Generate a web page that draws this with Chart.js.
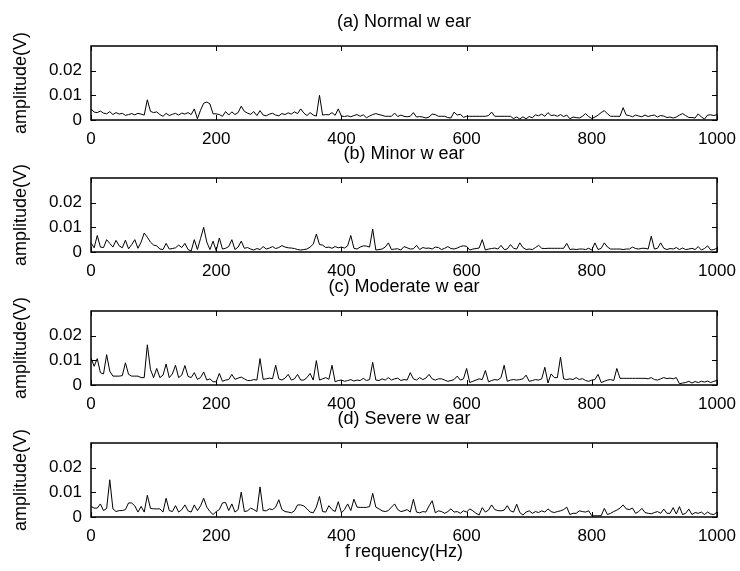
<!DOCTYPE html>
<html lang="en">
<head>
<meta charset="UTF-8">
<title>Tool wear spectra</title>
<script src="https://cdn.jsdelivr.net/npm/chart.js"></script>
<style>
    body {
        margin: 0;
        background: #fff;
    }
    #wrap {
        position: relative;
        width: 740px;
        height: 571px;
        overflow: hidden;
    }
    .panel {
        position: absolute;
        left: 0;
    }
</style>
</head>
<body>
<div id="wrap">
    <canvas id="c0" class="panel" width="740" height="152" style="top:0px"></canvas>
    <canvas id="c1" class="panel" width="740" height="152" style="top:132px"></canvas>
    <canvas id="c2" class="panel" width="740" height="152" style="top:265px"></canvas>
    <canvas id="c3" class="panel" width="740" height="174" style="top:397px"></canvas>
</div>

<script>
// ---- data ----
const TITLES = ['(a) Normal w ear', '(b) Minor w ear', '(c) Moderate w ear', '(d) Severe w ear'];
const Y_LABEL = 'amplitude(V)';
const X_LABEL = 'f requency(Hz)';
const X_TICKS = [0, 200, 400, 600, 800, 1000];
const Y_TICKS = [0, 0.01, 0.02];
const Y_TICK_LABELS = ['0', '0.01', '0.02'];
const FREQ_STEP = 5; // Hz between spectrum lines, 0..1000

// amplitude (V), one row = 10 lines = 50 Hz
const normalWear = [
    .0045,.0032,.0030,.0036,.0028,.0025,.0034,.0022,.0030,.0024,
    .0027,.0019,.0022,.0026,.0021,.0027,.0024,.0020,.0082,.0035,
    .0030,.0033,.0022,.0015,.0027,.0018,.0023,.0027,.0020,.0028,
    .0024,.0030,.0022,.0045,.0005,.0040,.0068,.0073,.0065,.0025,
    .0025,.0022,.0015,.0034,.0020,.0033,.0022,.0030,.0056,.0035,
    .0028,.0023,.0034,.0018,.0038,.0020,.0017,.0024,.0027,.0020,
    .0017,.0026,.0022,.0029,.0024,.0033,.0026,.0045,.0028,.0018,
    .0030,.0020,.0016,.0100,.0020,.0022,.0021,.0030,.0019,.0045,
    .0016,.0014,.0017,.0013,.0018,.0022,.0015,.0021,.0009,.0016,
    .0022,.0026,.0022,.0019,.0015,.0015,.0015,.0028,.0014,.0020,
    .0015,.0013,.0015,.0030,.0012,.0014,.0012,.0008,.0012,.0024,
    .0022,.0015,.0015,.0015,.0010,.0008,.0032,.0020,.0023,.0011,
    .0015,.0015,.0015,.0015,.0015,.0015,.0015,.0018,.0032,.0015,
    .0015,.0015,.0015,.0015,.0015,.0006,.0012,.0004,.0013,.0005,
    .0014,.0009,.0021,.0017,.0024,.0015,.0030,.0018,.0020,.0015,
    .0022,.0014,.0020,.0005,.0012,.0010,.0008,.0015,.0026,.0014,
    .0006,.0012,.0020,.0030,.0038,.0025,.0015,.0015,.0015,.0015,
    .0050,.0020,.0018,.0013,.0020,.0016,.0013,.0020,.0014,.0018,
    .0020,.0012,.0018,.0016,.0010,.0012,.0008,.0012,.0020,.0026,
    .0018,.0010,.0010,.0008,.0025,.0012,.0004,.0020,.0021,.0018,
    .0022
];

const minorWear = [
    .0037,.0017,.0067,.0020,.0018,.0050,.0035,.0020,.0047,.0025,
    .0017,.0048,.0013,.0030,.0050,.0015,.0040,.0077,.0060,.0040,
    .0028,.0025,.0012,.0010,.0035,.0012,.0014,.0017,.0028,.0018,
    .0035,.0010,.0004,.0050,.0010,.0055,.0100,.0040,.0010,.0044,
    .0005,.0057,.0012,.0015,.0022,.0050,.0010,.0020,.0044,.0015,
    .0018,.0012,.0008,.0014,.0010,.0022,.0012,.0016,.0022,.0014,
    .0018,.0026,.0020,.0017,.0016,.0014,.0010,.0008,.0010,.0012,
    .0020,.0032,.0073,.0030,.0028,.0018,.0020,.0015,.0022,.0017,
    .0020,.0016,.0025,.0067,.0015,.0012,.0020,.0025,.0024,.0020,
    .0093,.0008,.0010,.0012,.0020,.0037,.0010,.0012,.0013,.0008,
    .0022,.0017,.0012,.0013,.0027,.0010,.0018,.0015,.0016,.0012,
    .0020,.0018,.0010,.0015,.0022,.0014,.0012,.0016,.0022,.0025,
    .0023,.0008,.0012,.0014,.0016,.0050,.0008,.0012,.0014,.0016,
    .0012,.0027,.0010,.0012,.0030,.0015,.0012,.0037,.0018,.0010,
    .0012,.0010,.0018,.0027,.0015,.0014,.0015,.0015,.0015,.0015,
    .0015,.0015,.0035,.0010,.0012,.0010,.0012,.0012,.0010,.0015,
    .0008,.0037,.0010,.0015,.0037,.0020,.0012,.0012,.0012,.0012,
    .0010,.0012,.0012,.0020,.0014,.0012,.0015,.0015,.0012,.0064,
    .0012,.0015,.0037,.0015,.0010,.0014,.0012,.0018,.0010,.0016,
    .0010,.0012,.0015,.0010,.0022,.0008,.0014,.0025,.0008,.0010,
    .0015
];

const moderateWear = [
    .0110,.0076,.0107,.0050,.0045,.0123,.0056,.0036,.0036,.0036,
    .0038,.0090,.0043,.0036,.0036,.0036,.0030,.0030,.0163,.0063,
    .0030,.0067,.0030,.0040,.0085,.0030,.0045,.0080,.0030,.0040,
    .0079,.0035,.0030,.0050,.0023,.0030,.0053,.0020,.0025,.0013,
    .0013,.0047,.0015,.0020,.0022,.0043,.0023,.0028,.0032,.0025,
    .0018,.0018,.0022,.0020,.0107,.0023,.0025,.0028,.0025,.0080,
    .0025,.0020,.0028,.0043,.0020,.0025,.0043,.0020,.0020,.0030,
    .0047,.0020,.0099,.0020,.0025,.0030,.0023,.0080,.0013,.0018,
    .0020,.0015,.0018,.0022,.0016,.0020,.0018,.0027,.0018,.0022,
    .0092,.0020,.0018,.0025,.0020,.0030,.0020,.0025,.0028,.0018,
    .0022,.0020,.0050,.0025,.0020,.0030,.0022,.0028,.0043,.0025,
    .0020,.0025,.0025,.0020,.0015,.0018,.0022,.0036,.0020,.0025,
    .0067,.0010,.0015,.0020,.0025,.0022,.0059,.0013,.0018,.0022,
    .0020,.0030,.0080,.0015,.0020,.0022,.0020,.0022,.0025,.0040,
    .0015,.0018,.0022,.0020,.0025,.0072,.0008,.0045,.0030,.0030,
    .0113,.0025,.0022,.0025,.0022,.0030,.0022,.0026,.0018,.0015,
    .0020,.0022,.0043,.0010,.0015,.0020,.0022,.0018,.0067,.0027,
    .0027,.0027,.0027,.0027,.0027,.0027,.0027,.0027,.0025,.0030,
    .0022,.0020,.0025,.0030,.0026,.0028,.0025,.0030,.0005,.0008,
    .0010,.0015,.0008,.0014,.0010,.0015,.0012,.0016,.0010,.0015,
    .0018
];

const severeWear = [
    .0043,.0036,.0036,.0053,.0026,.0035,.0151,.0033,.0022,.0026,
    .0026,.0030,.0057,.0057,.0045,.0020,.0043,.0020,.0088,.0035,
    .0033,.0033,.0033,.0020,.0076,.0026,.0022,.0046,.0020,.0030,
    .0049,.0025,.0020,.0049,.0026,.0045,.0076,.0040,.0022,.0010,
    .0022,.0030,.0057,.0059,.0026,.0053,.0020,.0030,.0101,.0022,
    .0025,.0036,.0030,.0022,.0122,.0026,.0025,.0033,.0030,.0040,
    .0070,.0030,.0022,.0020,.0017,.0025,.0049,.0049,.0045,.0033,
    .0020,.0017,.0040,.0083,.0022,.0020,.0046,.0030,.0022,.0062,
    .0017,.0030,.0053,.0026,.0072,.0040,.0039,.0039,.0039,.0042,
    .0096,.0040,.0033,.0025,.0022,.0026,.0040,.0053,.0030,.0022,
    .0025,.0030,.0020,.0072,.0020,.0017,.0022,.0020,.0045,.0066,
    .0017,.0025,.0022,.0015,.0022,.0033,.0020,.0022,.0015,.0025,
    .0020,.0033,.0025,.0015,.0008,.0038,.0020,.0028,.0049,.0030,
    .0026,.0025,.0028,.0046,.0025,.0020,.0052,.0018,.0008,.0020,
    .0025,.0015,.0022,.0018,.0025,.0020,.0033,.0022,.0018,.0022,
    .0025,.0030,.0040,.0010,.0015,.0015,.0025,.0022,.0020,.0025,
    .0005,.0005,.0005,.0005,.0035,.0010,.0015,.0022,.0028,.0036,
    .0049,.0033,.0030,.0036,.0015,.0022,.0035,.0018,.0015,.0013,
    .0018,.0022,.0015,.0032,.0015,.0015,.0038,.0012,.0042,.0010,
    .0015,.0032,.0010,.0018,.0015,.0020,.0010,.0020,.0012,.0010,
    .0020
];

const SERIES = [normalWear, minorWear, moderateWear, severeWear];

// ---- layout ----
const FONT = "'Liberation Sans', Arial, Helvetica, sans-serif";
const Y_AXIS_W = 91;      // chart area starts at x=91
const RIGHT_PAD = 23;     // chart area ends at x=717
const TICK_LEN = 5;

// MATLAB style box with ticks pointing inwards
const matlabAxes = {
    id: 'matlabAxes',
    afterDatasetsDraw(chart) {
        const { ctx, chartArea: a, scales: { x, y } } = chart;
        ctx.save();
        ctx.strokeStyle = '#000';
        ctx.lineWidth = 1;
        ctx.beginPath();
        X_TICKS.forEach(v => {
            const px = Math.round(x.getPixelForValue(v)) + 0.5;
            ctx.moveTo(px, a.bottom);
            ctx.lineTo(px, a.bottom - TICK_LEN);
            ctx.moveTo(px, a.top);
            ctx.lineTo(px, a.top + TICK_LEN);
        });
        Y_TICKS.forEach(v => {
            const py = Math.round(y.getPixelForValue(v)) + 0.5;
            ctx.moveTo(a.left, py);
            ctx.lineTo(a.left + TICK_LEN, py);
            ctx.moveTo(a.right, py);
            ctx.lineTo(a.right - TICK_LEN, py);
        });
        ctx.stroke();
        ctx.lineWidth = 1.5;
        ctx.strokeRect(a.left, a.top, a.right - a.left, a.bottom - a.top);
        ctx.restore();
    }
};

function makePanel(i) {
    const isLast = i === SERIES.length - 1;
    const points = SERIES[i].map((v, k) => ({ x: k * FREQ_STEP, y: v }));

    new Chart(document.getElementById('c' + i), {
        type: 'line',
        data: {
            datasets: [{
                data: points,
                borderColor: '#000',
                borderWidth: 1,
                pointRadius: 0,
                fill: false,
                tension: 0
            }]
        },
        options: {
            responsive: false,
            animation: false,
            events: [],
            layout: { padding: { left: 0, right: RIGHT_PAD, top: 0, bottom: 0 } },
            plugins: {
                legend: { display: false },
                tooltip: { enabled: false },
                title: {
                    display: true,
                    text: TITLES[i],
                    color: '#000',
                    fullSize: false,
                    font: { family: FONT, size: 18, weight: 'normal' },
                    padding: { top: 11, bottom: 13.4 }
                }
            },
            scales: {
                x: {
                    type: 'linear',
                    min: 0,
                    max: 1000,
                    afterBuildTicks: s => { s.ticks = X_TICKS.map(v => ({ value: v })); },
                    afterFit: s => {
                        s.height = isLast ? 54 : 32;
                        // let layout padding alone decide the right edge
                        s.paddingLeft = 0;
                        s.paddingRight = 0;
                    },
                    grid: { display: false, drawTicks: false },
                    border: { display: false },
                    ticks: {
                        color: '#000',
                        autoSkip: false,
                        maxRotation: 0,
                        padding: 9,
                        font: { family: FONT, size: 17 },
                        callback: v => String(v)
                    },
                    title: {
                        display: isLast,
                        text: X_LABEL,
                        color: '#000',
                        font: { family: FONT, size: 18 },
                        padding: { top: 0, bottom: 8 }
                    }
                },
                y: {
                    min: 0,
                    max: 0.03,
                    afterBuildTicks: s => { s.ticks = Y_TICKS.map(v => ({ value: v })); },
                    afterFit: s => { s.width = Y_AXIS_W; },
                    grid: { display: false, drawTicks: false },
                    border: { display: false },
                    ticks: {
                        color: '#000',
                        padding: 9,
                        font: { family: FONT, size: 17 },
                        callback: v => Y_TICK_LABELS[Y_TICKS.indexOf(v)]
                    },
                    title: {
                        display: true,
                        text: Y_LABEL,
                        color: '#000',
                        font: { family: FONT, size: 18 },
                        padding: { top: 10, bottom: 0 }
                    }
                }
            }
        },
        plugins: [matlabAxes]
    });
}

SERIES.forEach((s, i) => makePanel(i));
</script>
</body>
</html>
